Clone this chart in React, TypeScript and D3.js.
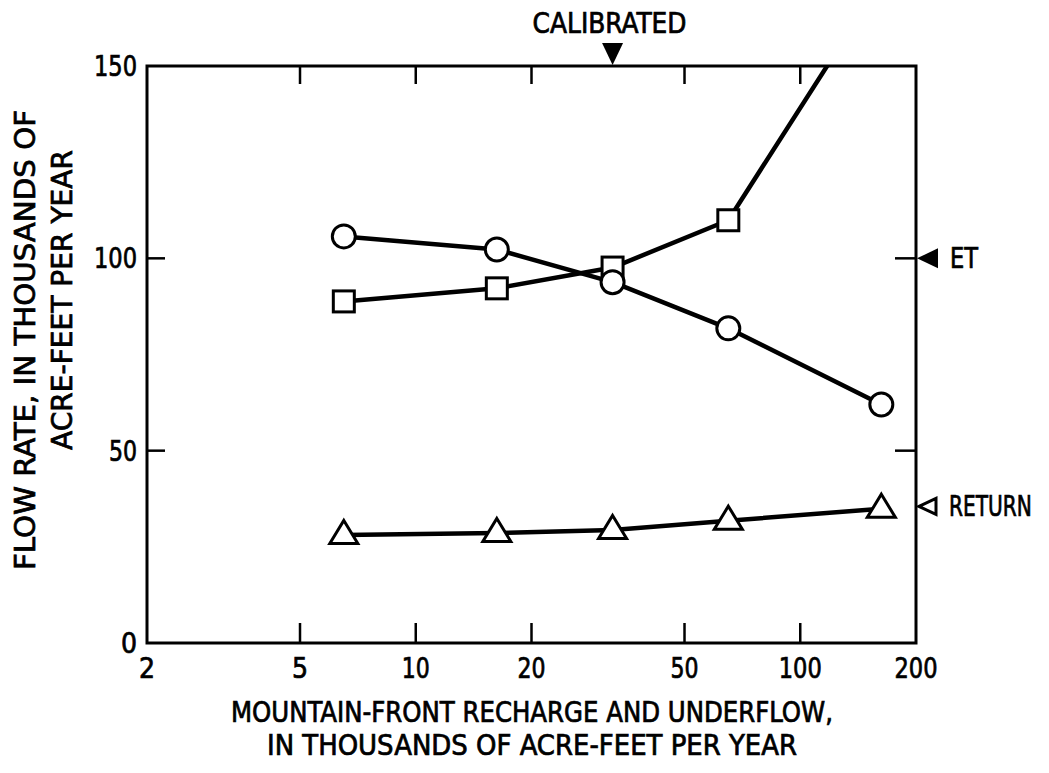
import React from "react";
import * as d3 from "d3";

// Mountain-front recharge and underflow (thousands of acre-feet per year)
const recharge = [6.5, 16.25, 32.5, 65, 162.5];
// Flow rates for each simulated recharge value
const circleFlow = [105.7, 102.3, 93.8, 81.8, 62.0];
const squareFlow = [88.8, 92.2, 97.6, 109.9, 172];
const triangleFlow = [28.1, 28.6, 29.4, 31.8, 34.9];

const xTicks = [2, 5, 10, 20, 50, 100, 200];
const yTicks = [0, 50, 100, 150];
const calibratedRecharge = 32.5;
const etMeasured = 100;
const returnMeasured = 35.5;

const W = 1049;
const H = 773;
const FONT = "'DejaVu Sans Condensed', 'DejaVu Sans', sans-serif";
const CHAR_W = 15;

export default function App() {
  const x = d3.scaleLog().domain([2, 200]).range([147, 916]);
  const y = d3.scaleLinear().domain([0, 150]).range([643, 66]);
  const [x0, x1] = x.range();
  const [y0, y1] = y.range();

  const line = d3
    .line<number>()
    .x((_, i) => x(recharge[i]))
    .y((d) => y(d));

  const tri = (cx: number, cy: number) =>
    `M${cx},${cy - 14.5}L${cx + 14},${cy + 8.5}L${cx - 14},${cy + 8.5}Z`;

  const textStyle: React.CSSProperties = {
    fontFamily: FONT,
    fontStretch: "condensed",
    fontSize: 28,
    fill: "#000",
    stroke: "#000",
    strokeWidth: 0.7,
  };

  // compress label glyphs to the narrow lettering width
  const fit = (s: string) =>
    s.length > 1 ? { textLength: CHAR_W * s.length - 2, lengthAdjust: "spacingAndGlyphs" as const } : {};

  const cx = x(calibratedRecharge);
  const yEt = y(etMeasured);
  const yRet = y(returnMeasured);

  return (
    <svg
      width={W}
      height={H}
      style={{ position: "absolute", left: 0, top: 0, background: "#fff" }}
    >
      <defs>
        <clipPath id="plot">
          <rect x={x0} y={y1} width={x1 - x0} height={y0 - y1} />
        </clipPath>
      </defs>
      <rect width={W} height={H} fill="#fff" />

      {/* frame */}
      <rect
        x={x0}
        y={y1}
        width={x1 - x0}
        height={y0 - y1}
        fill="none"
        stroke="#000"
        strokeWidth={3}
      />

      {/* x ticks, bottom and top, pointing inward */}
      {xTicks.slice(1, -1).map((t) => (
        <g key={"xt" + t} stroke="#000" strokeWidth={2.5}>
          <line x1={x(t)} x2={x(t)} y1={y0} y2={y0 - 20} />
          <line x1={x(t)} x2={x(t)} y1={y1} y2={y1 + 18} />
        </g>
      ))}
      {/* y ticks, left and right */}
      {yTicks.slice(1, -1).map((t) => (
        <g key={"yt" + t} stroke="#000" strokeWidth={2.5}>
          <line x1={x0} x2={x0 + 18} y1={y(t)} y2={y(t)} />
          <line x1={x1} x2={x1 - 21} y1={y(t)} y2={y(t)} />
        </g>
      ))}

      {/* tick labels */}
      {xTicks.map((t) => (
        <text key={"xl" + t} x={x(t)} y={678} textAnchor="middle" style={textStyle} {...fit(String(t))}>
          {t}
        </text>
      ))}
      {yTicks.map((t) => (
        <text key={"yl" + t} x={137} y={y(t) + 10} textAnchor="end" style={textStyle} {...fit(String(t))}>
          {t}
        </text>
      ))}

      {/* series lines */}
      <g clipPath="url(#plot)" fill="none" stroke="#000" strokeWidth={4.5} strokeLinejoin="round">
        <path d={line(squareFlow) || ""} />
        <path d={line(circleFlow) || ""} />
        <path d={line(triangleFlow) || ""} />
      </g>

      {/* markers */}
      <g fill="#fff" stroke="#000" strokeWidth={3}>
        {squareFlow.map((v, i) =>
          v <= 150 ? (
            <rect key={"sq" + i} x={x(recharge[i]) - 10.5} y={y(v) - 10.5} width={21} height={21} />
          ) : null
        )}
        {circleFlow.map((v, i) => (
          <circle key={"ci" + i} cx={x(recharge[i])} cy={y(v)} r={11.5} />
        ))}
        {triangleFlow.map((v, i) => (
          <path key={"tr" + i} d={tri(x(recharge[i]), y(v))} strokeLinejoin="miter" />
        ))}
      </g>

      {/* calibrated marker */}
      <path d={`M${cx},${y1 - 1}L${cx + 10.5},${y1 - 23}L${cx - 10.5},${y1 - 23}Z`} fill="#000" />
      <text x={cx - 3} y={33} textAnchor="middle" textLength={154} lengthAdjust="spacingAndGlyphs" style={textStyle}>
        CALIBRATED
      </text>

      {/* measured ET and return markers on the right axis */}
      <path d={`M${x1 + 1},${yEt}L${x1 + 22},${yEt - 10}L${x1 + 22},${yEt + 10}Z`} fill="#000" />
      <text x={950} y={yEt + 10} textLength={28} lengthAdjust="spacingAndGlyphs" style={textStyle}>
        ET
      </text>
      <path
        d={`M${x1 + 3},${yRet}L${x1 + 20},${yRet - 8}L${x1 + 20},${yRet + 8}Z`}
        fill="#fff"
        stroke="#000"
        strokeWidth={3}
      />
      <text transform={`translate(949,${yRet + 10}) scale(0.8,1)`} style={textStyle}>
        RETURN
      </text>

      {/* x axis title */}
      <text x={532} y={722} textAnchor="middle" textLength={602} lengthAdjust="spacingAndGlyphs" style={textStyle}>
        MOUNTAIN-FRONT RECHARGE AND UNDERFLOW,
      </text>
      <text x={532} y={755} textAnchor="middle" textLength={530} lengthAdjust="spacingAndGlyphs" style={textStyle}>
        IN THOUSANDS OF ACRE-FEET PER YEAR
      </text>

      {/* y axis title */}
      <text
        transform={`translate(35,340) rotate(-90)`}
        textAnchor="middle"
        textLength={460}
        lengthAdjust="spacingAndGlyphs"
        style={textStyle}
      >
        FLOW RATE, IN THOUSANDS OF
      </text>
      <text
        transform={`translate(72,300) rotate(-90)`}
        textAnchor="middle"
        textLength={300}
        lengthAdjust="spacingAndGlyphs"
        style={textStyle}
      >
        ACRE-FEET PER YEAR
      </text>
    </svg>
  );
}
